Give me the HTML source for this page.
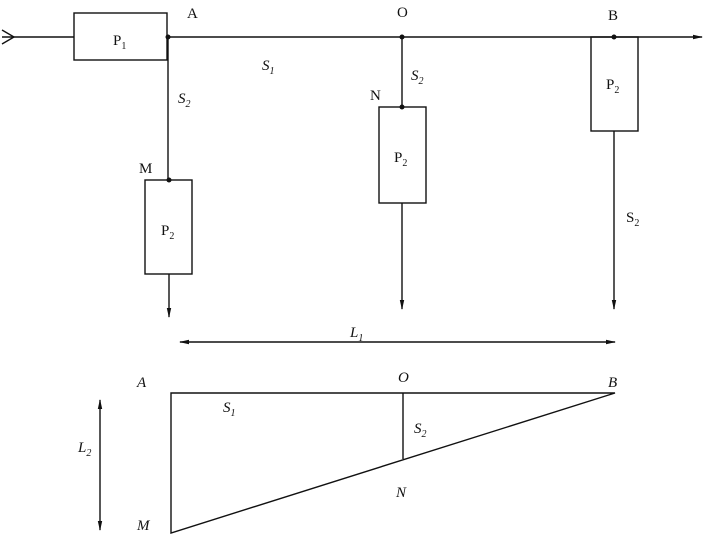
<!DOCTYPE html>
<html><head><meta charset="utf-8"><style>
html,body{margin:0;padding:0;background:#fff;width:712px;height:538px;overflow:hidden}
svg{display:block}
text{font-family:"Liberation Serif",serif;fill:#111}
.it{font-style:italic}
</style></head><body>
<svg width="712" height="538" viewBox="0 0 712 538" xmlns="http://www.w3.org/2000/svg">
<defs>
<marker id="ar" markerWidth="10" markerHeight="6" refX="9" refY="3" orient="auto" markerUnits="userSpaceOnUse">
<path d="M0,0.8 L10,3 L0,5.2 Z" fill="#111"/></marker>
<marker id="al" markerWidth="10" markerHeight="6" refX="1" refY="3" orient="auto" markerUnits="userSpaceOnUse">
<path d="M10,0.8 L0,3 L10,5.2 Z" fill="#111"/></marker>
</defs>
<g stroke="#111" stroke-width="1.4" fill="none">
<!-- input arrow -->
<path d="M2,30 L14,37 L2,44" />
<line x1="2" y1="37" x2="74" y2="37"/>
<rect x="74" y="13" width="93" height="47"/>
<line x1="168" y1="37" x2="702" y2="37" marker-end="url(#ar)"/>
<!-- A branch -->
<line x1="168" y1="37" x2="168" y2="180"/>
<rect x="145" y="180" width="47" height="94"/>
<line x1="169" y1="274" x2="169" y2="317" marker-end="url(#ar)"/>
<!-- O branch -->
<line x1="402" y1="37" x2="402" y2="107"/>
<rect x="379" y="107" width="47" height="96"/>
<line x1="402" y1="203" x2="402" y2="309" marker-end="url(#ar)"/>
<!-- B branch -->
<rect x="591" y="37" width="47" height="94"/>
<line x1="614" y1="131" x2="614" y2="309" marker-end="url(#ar)"/>
<!-- L1 -->
<line x1="180" y1="342" x2="615" y2="342" marker-start="url(#al)" marker-end="url(#ar)"/>
<!-- triangle -->
<path d="M171,393 L615,393 L171,533 Z"/>
<line x1="403" y1="393" x2="403" y2="459"/>
<!-- L2 -->
<line x1="100" y1="400" x2="100" y2="530" marker-start="url(#al)" marker-end="url(#ar)"/>
</g>
<g fill="#111">
<circle cx="168" cy="37" r="2.5"/><circle cx="169" cy="180" r="2.5"/>
<circle cx="402" cy="37" r="2.5"/><circle cx="402" cy="107" r="2.5"/>
<circle cx="614" cy="37" r="2.5"/>
</g>
<g font-size="15">
<text x="113" y="45">P<tspan font-size="10" dy="4">1</tspan></text>
<text x="187" y="18">A</text>
<text x="397" y="17">O</text>
<text x="608" y="20">B</text>
<text x="262" y="70" class="it">S<tspan font-size="10" dy="4">1</tspan></text>
<text x="178" y="103" class="it">S<tspan font-size="10" dy="4">2</tspan></text>
<text x="411" y="80" class="it">S<tspan font-size="10" dy="4">2</tspan></text>
<text x="370" y="100">N</text>
<text x="139" y="173">M</text>
<text x="161" y="235">P<tspan font-size="10" dy="4">2</tspan></text>
<text x="394" y="162">P<tspan font-size="10" dy="4">2</tspan></text>
<text x="606" y="89">P<tspan font-size="10" dy="4">2</tspan></text>
<text x="626" y="222">S<tspan font-size="10" dy="4">2</tspan></text>
<text x="350" y="337" class="it">L<tspan font-size="10" dy="4">1</tspan></text>
<text x="137" y="387" class="it">A</text>
<text x="398" y="382" class="it">O</text>
<text x="608" y="387" class="it">B</text>
<text x="223" y="412" class="it">S<tspan font-size="10" dy="4">1</tspan></text>
<text x="414" y="433" class="it">S<tspan font-size="10" dy="4">2</tspan></text>
<text x="78" y="452" class="it">L<tspan font-size="10" dy="4">2</tspan></text>
<text x="396" y="497" class="it">N</text>
<text x="137" y="530" class="it">M</text>
</g>
</svg>
</body></html>
